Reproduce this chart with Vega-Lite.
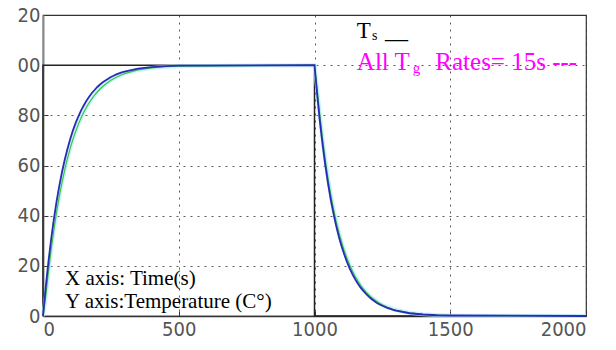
{
  "$schema": "https://vega.github.io/schema/vega-lite/v6.json",
  "width": 543,
  "height": 301,
  "autosize": {"type": "none"},
  "padding": {"left": 43, "top": 15, "right": 30, "bottom": 34},
  "background": "white",
  "config": {
    "view": {"stroke": "#333", "strokeWidth": 1.2},
    "axis": {
      "labelFont": "Liberation Sans Narrow, DejaVu Sans Condensed, Arial, sans-serif",
      "labelFontSize": 20,
      "labelColor": "#555",
      "grid": true,
      "gridColor": "#333",
      "gridDash": [2, 5],
      "gridWidth": 1,
      "gridOpacity": 0.8,
      "tickColor": "#333",
      "tickSize": -5,
      "title": null
    }
  },
  "datasets": {
    "sim": [
      {"t": 0, "b": 0, "g": 0},
      {"t": 10, "b": 11.5, "g": 7.6},
      {"t": 20, "b": 21.6, "g": 17.6},
      {"t": 30, "b": 30.6, "g": 26.4},
      {"t": 40, "b": 38.6, "g": 34.3},
      {"t": 50, "b": 45.7, "g": 41.4},
      {"t": 60, "b": 51.9, "g": 47.7},
      {"t": 70, "b": 57.4, "g": 53.3},
      {"t": 80, "b": 62.3, "g": 58.3},
      {"t": 90, "b": 66.6, "g": 62.8},
      {"t": 100, "b": 70.5, "g": 66.8},
      {"t": 110, "b": 73.9, "g": 70.4},
      {"t": 120, "b": 76.9, "g": 73.5},
      {"t": 130, "b": 79.5, "g": 76.4},
      {"t": 140, "b": 81.9, "g": 78.9},
      {"t": 150, "b": 83.9, "g": 81.2},
      {"t": 160, "b": 85.8, "g": 83.2},
      {"t": 170, "b": 87.4, "g": 85.0},
      {"t": 180, "b": 88.9, "g": 86.6},
      {"t": 190, "b": 90.1, "g": 88.1},
      {"t": 200, "b": 91.3, "g": 89.3},
      {"t": 210, "b": 92.3, "g": 90.5},
      {"t": 220, "b": 93.2, "g": 91.5},
      {"t": 230, "b": 93.9, "g": 92.4},
      {"t": 240, "b": 94.6, "g": 93.2},
      {"t": 250, "b": 95.3, "g": 94.0},
      {"t": 260, "b": 95.8, "g": 94.6},
      {"t": 270, "b": 96.3, "g": 95.2},
      {"t": 280, "b": 96.7, "g": 95.7},
      {"t": 290, "b": 97.1, "g": 96.2},
      {"t": 300, "b": 97.4, "g": 96.6},
      {"t": 350, "b": 98.6, "g": 98.1},
      {"t": 400, "b": 99.2, "g": 98.9},
      {"t": 450, "b": 99.6, "g": 99.4},
      {"t": 500, "b": 99.8, "g": 99.6},
      {"t": 1000, "b": 100, "g": 100},
      {"t": 1010, "b": 88.0, "g": 90.5},
      {"t": 1020, "b": 77.4, "g": 79.9},
      {"t": 1030, "b": 68.1, "g": 70.5},
      {"t": 1040, "b": 59.9, "g": 62.2},
      {"t": 1050, "b": 52.7, "g": 54.9},
      {"t": 1060, "b": 46.3, "g": 48.4},
      {"t": 1070, "b": 40.8, "g": 42.7},
      {"t": 1080, "b": 35.9, "g": 37.7},
      {"t": 1090, "b": 31.5, "g": 33.3},
      {"t": 1100, "b": 27.7, "g": 29.4},
      {"t": 1110, "b": 24.4, "g": 25.9},
      {"t": 1120, "b": 21.5, "g": 22.9},
      {"t": 1130, "b": 18.9, "g": 20.2},
      {"t": 1140, "b": 16.6, "g": 17.8},
      {"t": 1150, "b": 14.6, "g": 15.7},
      {"t": 1160, "b": 12.9, "g": 13.9},
      {"t": 1170, "b": 11.3, "g": 12.2},
      {"t": 1180, "b": 10.0, "g": 10.8},
      {"t": 1190, "b": 8.8, "g": 9.5},
      {"t": 1200, "b": 7.7, "g": 8.4},
      {"t": 1210, "b": 6.8, "g": 7.4},
      {"t": 1220, "b": 6.0, "g": 6.6},
      {"t": 1230, "b": 5.2, "g": 5.8},
      {"t": 1240, "b": 4.6, "g": 5.1},
      {"t": 1250, "b": 4.1, "g": 4.5},
      {"t": 1260, "b": 3.6, "g": 4.0},
      {"t": 1270, "b": 3.1, "g": 3.5},
      {"t": 1280, "b": 2.8, "g": 3.1},
      {"t": 1290, "b": 2.4, "g": 2.7},
      {"t": 1300, "b": 2.1, "g": 2.4},
      {"t": 1350, "b": 1.1, "g": 1.3},
      {"t": 1400, "b": 0.6, "g": 0.7},
      {"t": 1450, "b": 0.3, "g": 0.4},
      {"t": 1500, "b": 0.2, "g": 0.2},
      {"t": 2000, "b": 0, "g": 0}
    ],
    "setpoint": [
      {"t": 0, "ts": 0, "o": 1},
      {"t": 0, "ts": 100, "o": 2},
      {"t": 1000, "ts": 100, "o": 3},
      {"t": 1000, "ts": 0, "o": 4},
      {"t": 2000, "ts": 0, "o": 5}
    ]
  },
  "layer": [
    {
      "data": {"name": "setpoint"},
      "mark": {"type": "line", "color": "#222", "strokeWidth": 1.5},
      "encoding": {
        "x": {"field": "t", "type": "quantitative", "scale": {"domain": [0, 2000], "nice": false},
              "axis": {"values": [0, 500, 1000, 1500, 2000], "format": "d", "domainColor": "#333", "domainWidth": 1.5, "labelPadding": 8}},
        "y": {"field": "ts", "type": "quantitative", "scale": {"domain": [0, 120], "nice": false},
              "axis": {"values": [0, 20, 40, 60, 80, 100, 120], "domainColor": "#888", "domainWidth": 2, "labelPadding": 8,
                       "labelExpr": "datum.value >= 100 ? slice(datum.label, 1) : datum.label"}},
        "order": {"field": "o", "type": "quantitative"}
      }
    },
    {
      "data": {"name": "sim"},
      "mark": {"type": "line", "color": "#b8f0ff", "strokeWidth": 4, "opacity": 0.8},
      "encoding": {
        "x": {"field": "t", "type": "quantitative"},
        "y": {"field": "g", "type": "quantitative"}
      }
    },
    {
      "data": {"name": "sim"},
      "mark": {"type": "line", "color": "#3fc43f", "strokeWidth": 1.2},
      "encoding": {
        "x": {"field": "t", "type": "quantitative"},
        "y": {"field": "g", "type": "quantitative"}
      }
    },
    {
      "data": {"name": "sim"},
      "mark": {"type": "line", "color": "#2a2ab8", "strokeWidth": 1.8},
      "encoding": {
        "x": {"field": "t", "type": "quantitative"},
        "y": {"field": "b", "type": "quantitative"}
      }
    },
    {
      "data": {"values": [{"t": 1156, "v": 110.8, "txt": "T"}]},
      "mark": {"type": "text", "font": "Liberation Serif", "fontSize": 23, "color": "black", "align": "left", "baseline": "alphabetic"},
      "encoding": {"x": {"field": "t", "type": "quantitative"}, "y": {"field": "v", "type": "quantitative"}, "text": {"field": "txt"}}
    },
    {
      "data": {"values": [{"t": 1212, "v": 110.8, "txt": "s"}]},
      "mark": {"type": "text", "font": "Liberation Serif", "fontSize": 14, "color": "black", "align": "left", "baseline": "alphabetic", "dy": 2},
      "encoding": {"x": {"field": "t", "type": "quantitative"}, "y": {"field": "v", "type": "quantitative"}, "text": {"field": "txt"}}
    },
    {
      "data": {"values": [{"t": 1260, "v": 110.8, "txt": "__"}]},
      "mark": {"type": "text", "font": "Liberation Serif", "fontSize": 23, "color": "black", "align": "left", "baseline": "alphabetic"},
      "encoding": {"x": {"field": "t", "type": "quantitative"}, "y": {"field": "v", "type": "quantitative"}, "text": {"field": "txt"}}
    },
    {
      "data": {"values": [{"t": 1156, "v": 98.1, "txt": "All T"}, {"t": 1445, "v": 98.1, "txt": "Rates= 15s ---"}]},
      "mark": {"type": "text", "font": "Liberation Serif", "fontSize": 25, "color": "#ff00ff", "align": "left", "baseline": "alphabetic"},
      "encoding": {"x": {"field": "t", "type": "quantitative"}, "y": {"field": "v", "type": "quantitative"}, "text": {"field": "txt"}}
    },
    {
      "data": {"values": [{"t": 1362, "v": 98.1, "txt": "g"}]},
      "mark": {"type": "text", "font": "Liberation Serif", "fontSize": 15, "color": "#ff00ff", "align": "left", "baseline": "alphabetic", "dy": 3},
      "encoding": {"x": {"field": "t", "type": "quantitative"}, "y": {"field": "v", "type": "quantitative"}, "text": {"field": "txt"}}
    },
    {
      "data": {"values": [{"t": 81, "v": 12.4, "txt": "X axis: Time(s)"}, {"t": 81, "v": 3.2, "txt": "Y axis:Temperature (C°)"}]},
      "mark": {"type": "text", "font": "Liberation Serif", "fontSize": 21, "color": "black", "align": "left", "baseline": "alphabetic"},
      "encoding": {"x": {"field": "t", "type": "quantitative"}, "y": {"field": "v", "type": "quantitative"}, "text": {"field": "txt"}}
    }
  ]
}
